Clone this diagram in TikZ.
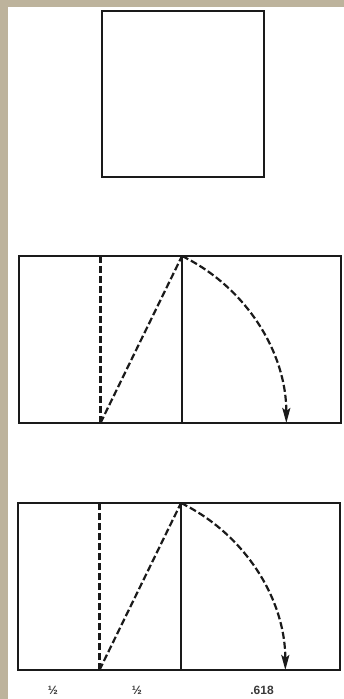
\documentclass[tikz,border=0pt]{standalone}
\usepackage{fontspec}
\setmainfont{Liberation Sans}
\usepackage{xcolor}
\usetikzlibrary{calc,arrows.meta,positioning}

\begin{document}
\begin{tikzpicture}[
			x=1pt, y=1pt,
			>={Stealth[length=15pt, width=8pt, inset=3pt]},
			edge/.style={line width=2.2pt},
			cut/.style={line width=1.8pt},
			guide/.style={line width=2.2pt, dash pattern=on 7pt off 3pt},
			frac/.style={font=\fontsize{12}{14}\selectfont\bfseries, inner sep=0pt}
			]
			
			% Parameters
			\def\W{344}
			\def\H{699}
			\def\side{163}     % side of the square
			\def\hgt{167}      % height of the panels
			\def\panelW{322}   % full width of the panels
			\pgfmathsetmacro{\half}{\side/2}
			\pgfmathsetmacro{\R}{veclen(\half,\hgt)}
			\pgfmathsetmacro{\startDeg}{atan(\hgt/\half)}
			
			% Colors
			\definecolor{frameColor}{HTML}{BDB39C}
			\definecolor{lineColor}{HTML}{1A1A1A}
			\definecolor{textColor}{HTML}{3A3A3A}
			
			% Background and frame
			\fill[frameColor] (0,0) rectangle (\W,\H);
			\fill[white] (8,0) rectangle (\W,692);
			
			% Square on top
			\coordinate (Q1) at (102,522);
			\coordinate (Q2) at (264,688);
			\draw[edge, lineColor] (Q1) rectangle (Q2);
			
			% Middle panel
			\begin{scope}[shift={(19,276)}]
				\coordinate (A)  at (0,0);
				\coordinate (B)  at (\panelW,\hgt);
				\coordinate (M)  at (\half,0);
				\coordinate (MT) at (\half,\hgt);
				\coordinate (S)  at (\side,0);
				\coordinate (ST) at (\side,\hgt);
				\draw[edge, lineColor] (A) rectangle (B);
				\draw[cut, lineColor] (S) -- (ST);
				\draw[guide, lineColor] (M) -- (MT);
				\draw[guide, lineColor] (M) -- (ST);
				\draw[guide, lineColor, ->] (ST) arc[start angle=\startDeg, end angle=0, radius=\R];
			\end{scope}
			
			% Bottom panel
			\begin{scope}[shift={(18,29)}]
				\coordinate (A)  at (0,0);
				\coordinate (B)  at (\panelW,\hgt);
				\coordinate (M)  at (\half,0);
				\coordinate (MT) at (\half,\hgt);
				\coordinate (S)  at (\side,0);
				\coordinate (ST) at (\side,\hgt);
				\draw[edge, lineColor] (A) rectangle (B);
				\draw[cut, lineColor] (S) -- (ST);
				\draw[guide, lineColor] (M) -- (MT);
				\draw[guide, lineColor] (M) -- (ST);
				\draw[guide, lineColor, ->] (ST) arc[start angle=\startDeg, end angle=0, radius=\R];
			\end{scope}
			
			% Proportions under the bottom panel
			\node[frac, textColor] (h1)  at (53,9)  {½};
			\node[frac, textColor] (h2)  at (137,9) {½};
			\node[frac, textColor] (phi) at (262,9) {.618};
		\end{tikzpicture}
\end{document}
